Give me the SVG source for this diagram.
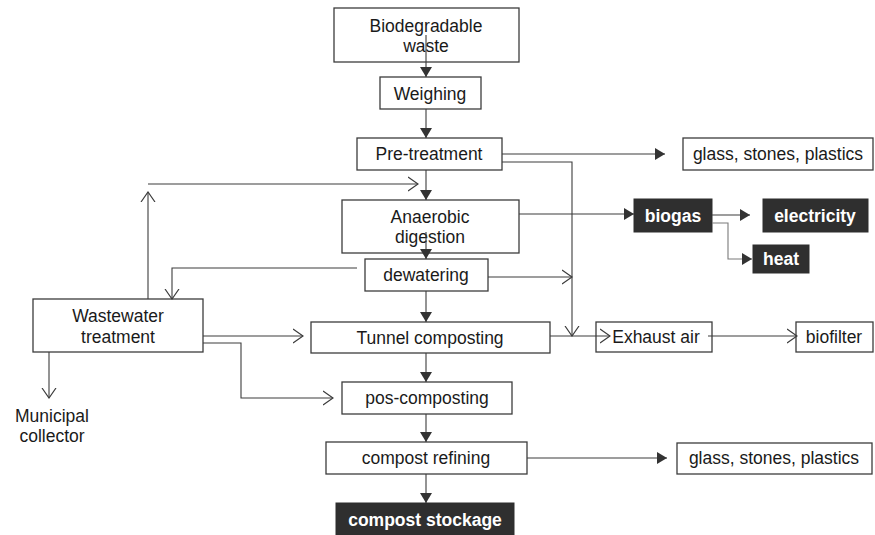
<svg xmlns="http://www.w3.org/2000/svg" width="875" height="535" viewBox="0 0 875 535">
<style>
.box{fill:#fff;stroke:#3c3c3c;stroke-width:1.3}
.dark{fill:#2f2f2f;stroke:#2f2f2f;stroke-width:1}
.t{font-family:"Liberation Sans",Arial,sans-serif;font-size:17.5px;fill:#1a1a1a;text-anchor:middle}
.tb{font-family:"Liberation Sans",Arial,sans-serif;font-size:17.5px;font-weight:bold;fill:#fff;text-anchor:middle}
.c{fill:none;stroke:#3c3c3c;stroke-width:1.1}
.cl{fill:none;stroke:#7a7a7a;stroke-width:1.1}
.f{marker-end:url(#fa)}
.o{marker-end:url(#oa)}
</style>
<defs>
<marker id="fa" viewBox="0 0 10 12" refX="10" refY="6" markerWidth="10" markerHeight="12" markerUnits="userSpaceOnUse" orient="auto"><path d="M0,0 L10,6 L0,12 z" fill="#333"/></marker>
<marker id="oa" viewBox="0 0 11 16" refX="10" refY="8" markerWidth="11" markerHeight="16" markerUnits="userSpaceOnUse" orient="auto"><path d="M0,1 L10,8 L0,15" fill="none" stroke="#3c3c3c" stroke-width="1.2"/></marker>
</defs>

<g id="n-bio"><rect class="box" x="334" y="8" width="185" height="54"/><text class="t" x="426" y="32">Biodegradable</text><text class="t" x="426" y="52">waste</text></g>
<g id="n-weigh"><rect class="box" x="380" y="77" width="101" height="32"/><text class="t" x="430" y="100">Weighing</text></g>
<g id="n-pre"><rect class="box" x="357" y="138" width="145" height="32"/><text class="t" x="429" y="160">Pre-treatment</text></g>
<g id="n-glass1"><rect class="box" x="683" y="138" width="190" height="32"/><text class="t" x="778" y="160">glass, stones, plastics</text></g>
<g id="n-anaer"><rect class="box" x="342" y="200" width="177" height="53"/><text class="t" x="430" y="223">Anaerobic</text><text class="t" x="430" y="243">digestion</text></g>
<g id="n-biogas"><rect class="dark" x="634" y="199" width="78" height="33"/><text class="tb" x="673" y="222">biogas</text></g>
<g id="n-elec"><rect class="dark" x="763" y="199" width="105" height="33"/><text class="tb" x="815" y="222">electricity</text></g>
<g id="n-heat"><rect class="dark" x="753" y="245" width="56" height="28"/><text class="tb" x="781" y="265">heat</text></g>
<g id="n-dew"><rect class="box" x="365" y="259" width="123" height="32"/><text class="t" x="426" y="281">dewatering</text></g>
<g id="n-ww"><rect class="box" x="33" y="299" width="170" height="53"/><text class="t" x="118" y="322">Wastewater</text><text class="t" x="118" y="343">treatment</text></g>
<g id="n-tunnel"><rect class="box" x="311" y="322" width="239" height="31"/><text class="t" x="430" y="344">Tunnel composting</text></g>
<g id="n-exhaust"><rect class="box" x="596" y="322" width="116" height="30"/><text class="t" x="656" y="343">Exhaust air</text></g>
<g id="n-biofilter"><rect class="box" x="796" y="322" width="77" height="30"/><text class="t" x="834" y="343">biofilter</text></g>
<g id="n-muni"><text class="t" x="52" y="422">Municipal</text><text class="t" x="52" y="442">collector</text></g>
<g id="n-pos"><rect class="box" x="342" y="382" width="170" height="32"/><text class="t" x="427" y="404">pos-composting</text></g>
<g id="n-refine"><rect class="box" x="326" y="442" width="201" height="32"/><text class="t" x="426" y="464">compost refining</text></g>
<g id="n-glass2"><rect class="box" x="677" y="443" width="195" height="31"/><text class="t" x="774" y="464">glass, stones, plastics</text></g>
<g id="n-stock"><rect class="dark" x="336" y="503" width="178" height="32"/><text class="tb" x="425" y="526">compost stockage</text></g>

<g id="connectors">
<path class="c f" d="M426,35 V77"/>
<path class="c f" d="M426,109 V138"/>
<path class="c f" d="M426,170 V200"/>
<path class="c f" d="M426,232 V259"/>
<path class="c f" d="M426,291 V322"/>
<path class="c f" d="M426,353 V382"/>
<path class="c f" d="M426,414 V442"/>
<path class="c f" d="M426,474 V503"/>
<path class="c f" d="M502,154 H665"/>
<path class="c o" d="M502,162 H572 V336"/>
<path class="c f" d="M519,214 H634"/>
<path class="c f" d="M712,215 H750"/>
<path class="cl f" d="M712,223 H728 V259 H752"/>
<path class="c o" d="M488,277 H572"/>
<path class="c o" d="M148,299 V192"/>
<path class="c o" d="M148,184 H418"/>
<path class="c o" d="M357,268 H172 V299"/>
<path class="c o" d="M203,336 H303"/>
<path class="c o" d="M203,343 H241 V398 H333"/>
<path class="c o" d="M49,352 V398"/>
<path class="c o" d="M550,336 H610"/>
<path class="c o" d="M708,336 H797"/>
<path class="c f" d="M527,458 H667"/>
</g>
</svg>
